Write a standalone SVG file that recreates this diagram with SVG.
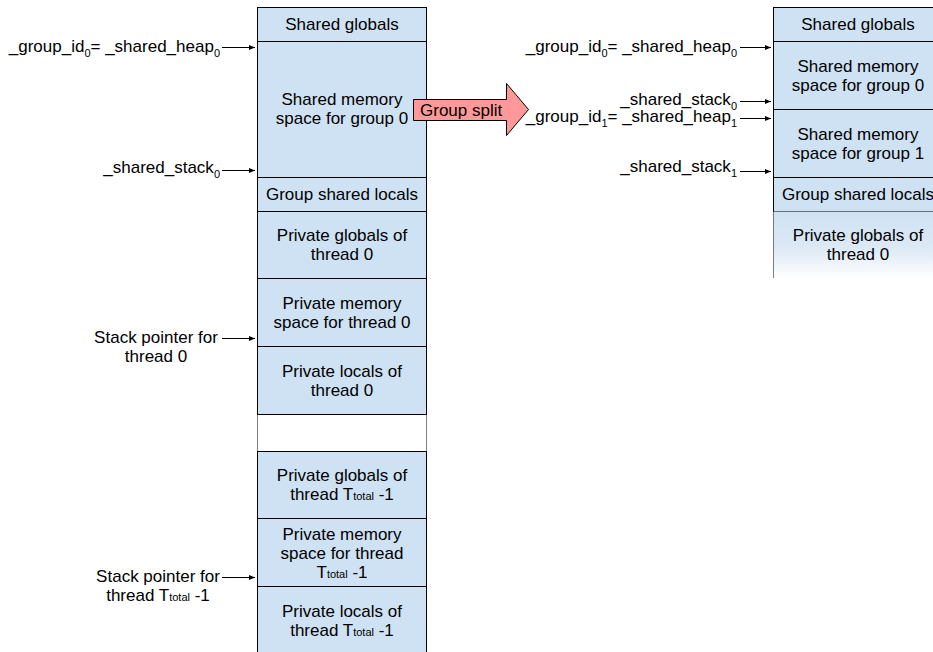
<svg xmlns="http://www.w3.org/2000/svg" width="933" height="652" viewBox="0 0 933 652">
  <style>
    text { font-family: "Liberation Sans", Arial, sans-serif; font-size: 17px; fill: #000; }
    .c { text-anchor: middle; }
    .e { text-anchor: end; }
    .cell { fill: #cfe2f3; stroke: #000; stroke-width: 1; }
    .side { stroke: #000; stroke-width: 1; stroke-dasharray: 1 1; fill: none; }
    .ptr { stroke: #000; stroke-width: 1; fill: none; marker-end: url(#ah); }
    .sub { font-size: 11px; }
    .tot { font-size: 11px; }
  </style>
  <defs>
    <marker id="ah" markerWidth="6" markerHeight="5" refX="6" refY="2.5" orient="auto" markerUnits="userSpaceOnUse">
      <path d="M0,0 L6,2.5 L0,5 Z" fill="#000"/>
    </marker>
    <linearGradient id="fade" x1="0" y1="0" x2="0" y2="1">
      <stop offset="0" stop-color="#cfe2f3"/>
      <stop offset="0.55" stop-color="#dde9f5"/>
      <stop offset="1" stop-color="#ffffff"/>
    </linearGradient>
  </defs>

  <!-- Memory layout before the split -->
  <g id="before">
    <g id="b-shared-globals">
      <rect class="cell" x="257.5" y="7.5" width="169" height="34"/>
      <text class="c" x="342" y="30">Shared globals</text>
    </g>
    <g id="b-shared-mem0">
      <rect class="cell" x="257.5" y="41.5" width="169" height="136"/>
      <text class="c" x="342" y="105">Shared memory</text>
      <text class="c" x="342" y="124">space for group 0</text>
    </g>
    <g id="b-group-locals">
      <rect class="cell" x="257.5" y="177.5" width="169" height="34"/>
      <text class="c" x="342" y="200">Group shared locals</text>
    </g>
    <g id="b-priv-globals0">
      <rect class="cell" x="257.5" y="211.5" width="169" height="67"/>
      <text class="c" x="342" y="241">Private globals of</text>
      <text class="c" x="342" y="260">thread 0</text>
    </g>
    <g id="b-priv-mem0">
      <rect class="cell" x="257.5" y="278.5" width="169" height="68"/>
      <text class="c" x="342" y="309">Private memory</text>
      <text class="c" x="342" y="328">space for thread 0</text>
    </g>
    <g id="b-priv-locals0">
      <rect class="cell" x="257.5" y="346.5" width="169" height="68"/>
      <text class="c" x="342" y="377">Private locals of</text>
      <text class="c" x="342" y="396">thread 0</text>
    </g>
    <g id="b-gap">
      <line class="side" x1="257.5" y1="414.5" x2="257.5" y2="451"/>
      <line class="side" x1="426.5" y1="414.5" x2="426.5" y2="451"/>
    </g>
    <g id="b-priv-globalsN">
      <rect class="cell" x="257.5" y="451.5" width="169" height="67"/>
      <text class="c" x="342" y="481">Private globals of</text>
      <text class="c" x="342" y="500">thread T<tspan class="tot">total</tspan> -1</text>
    </g>
    <g id="b-priv-memN">
      <rect class="cell" x="257.5" y="518.5" width="169" height="68"/>
      <text class="c" x="342" y="540">Private memory</text>
      <text class="c" x="342" y="559">space for thread</text>
      <text class="c" x="342" y="578">T<tspan class="tot">total</tspan> -1</text>
    </g>
    <g id="b-priv-localsN">
      <rect class="cell" x="257.5" y="586.5" width="169" height="70"/>
      <text class="c" x="342" y="617">Private locals of</text>
      <text class="c" x="342" y="636">thread T<tspan class="tot">total</tspan> -1</text>
    </g>
  </g>

  <!-- Memory layout after the split -->
  <g id="after">
    <g id="a-shared-globals">
      <rect class="cell" x="773.5" y="7.5" width="169" height="34"/>
      <text class="c" x="858" y="30">Shared globals</text>
    </g>
    <g id="a-shared-mem0">
      <rect class="cell" x="773.5" y="41.5" width="169" height="68"/>
      <text class="c" x="858" y="72">Shared memory</text>
      <text class="c" x="858" y="91">space for group 0</text>
    </g>
    <g id="a-shared-mem1">
      <rect class="cell" x="773.5" y="109.5" width="169" height="68"/>
      <text class="c" x="858" y="140">Shared memory</text>
      <text class="c" x="858" y="159">space for group 1</text>
    </g>
    <g id="a-group-locals">
      <rect class="cell" x="773.5" y="177.5" width="169" height="34"/>
      <text class="c" x="858" y="200">Group shared locals</text>
    </g>
    <g id="a-priv-globals0">
      <rect x="773.5" y="211.5" width="169" height="67" fill="url(#fade)"/>
      <line class="side" x1="773.5" y1="211.5" x2="773.5" y2="278"/>
      <text class="c" x="858" y="241">Private globals of</text>
      <text class="c" x="858" y="260">thread 0</text>
    </g>
  </g>

  <!-- Split arrow -->
  <g id="split">
    <path d="M413.5,99.5 H506.5 V83.5 L528.5,109.5 L506.5,135.5 V120.5 H413.5 Z" fill="#ff9999" stroke="#000" stroke-width="1"/>
    <text x="420" y="116">Group split</text>
  </g>

  <!-- Pointer labels -->
  <g id="labels">
    <text class="e" x="220" y="52">_group_id<tspan class="sub" dy="5">0</tspan><tspan dy="-5">= _shared_heap</tspan><tspan class="sub" dy="5">0</tspan></text>
    <text class="e" x="220" y="173">_shared_stack<tspan class="sub" dy="5">0</tspan></text>
    <text class="c" x="156" y="343">Stack pointer for</text>
    <text class="c" x="156" y="362">thread 0</text>
    <text class="c" x="158" y="582">Stack pointer for</text>
    <text class="c" x="158" y="601">thread T<tspan class="tot">total</tspan> -1</text>

    <text class="e" x="737" y="52">_group_id<tspan class="sub" dy="5">0</tspan><tspan dy="-5">= _shared_heap</tspan><tspan class="sub" dy="5">0</tspan></text>
    <text class="e" x="737" y="105">_shared_stack<tspan class="sub" dy="5">0</tspan></text>
    <text class="e" x="737" y="122">_group_id<tspan class="sub" dy="5">1</tspan><tspan dy="-5">= _shared_heap</tspan><tspan class="sub" dy="5">1</tspan></text>
    <text class="e" x="737" y="172">_shared_stack<tspan class="sub" dy="5">1</tspan></text>
  </g>

  <!-- Pointer arrows -->
  <g id="connectors">
    <line class="ptr" x1="222" y1="47.5" x2="255" y2="47.5"/>
    <line class="ptr" x1="222" y1="170.5" x2="255" y2="170.5"/>
    <line class="ptr" x1="222" y1="338.5" x2="255" y2="338.5"/>
    <line class="ptr" x1="222" y1="577.5" x2="255" y2="577.5"/>
    <line class="ptr" x1="740" y1="47.5" x2="771" y2="47.5"/>
    <line class="ptr" x1="740" y1="101.5" x2="771" y2="101.5"/>
    <line class="ptr" x1="740" y1="118.5" x2="771" y2="118.5"/>
    <line class="ptr" x1="740" y1="171.5" x2="771" y2="171.5"/>
  </g>
</svg>
